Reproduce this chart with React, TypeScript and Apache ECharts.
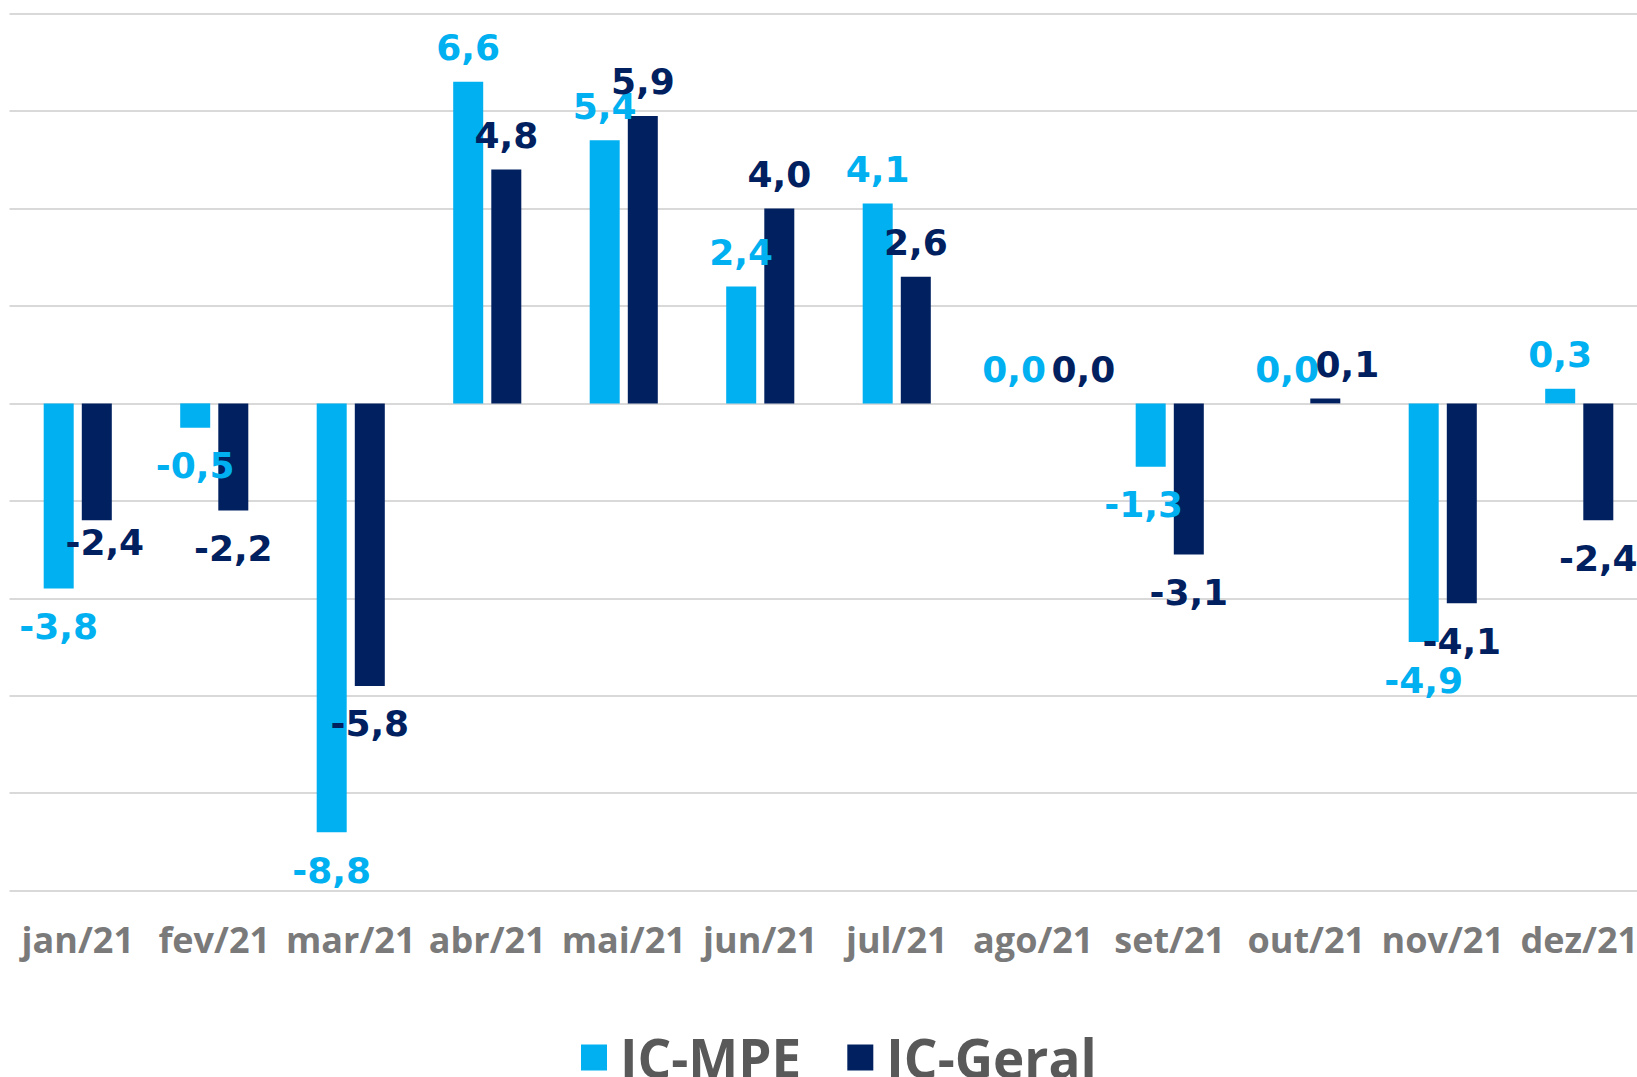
import React, { useEffect, useRef } from "react";
import * as echarts from "echarts";

const categories = ["jan/21", "fev/21", "mar/21", "abr/21", "mai/21", "jun/21", "jul/21", "ago/21", "set/21", "out/21", "nov/21", "dez/21"];
const icMpe = [-3.8, -0.5, -8.8, 6.6, 5.4, 2.4, 4.1, 0.0, -1.3, 0.0, -4.9, 0.3];
const icGeral = [-2.4, -2.2, -5.8, 4.8, 5.9, 4.0, 2.6, 0.0, -3.1, 0.1, -4.1, -2.4];
const seriesNames = ["IC-MPE", "IC-Geral"];

const COLOR_MPE = "#00B0F0";
const COLOR_GERAL = "#002060";

// label nudges (styling only), keyed by category index: [dx, dy]
const mpeLabelShift: Record<number, number[]> = { 8: [-7, 0] };
const geralLabelShift: Record<number, number[]> = { 0: [8, -16], 7: [31, 0], 9: [22, 0] };

const fmt = (v: number) => v.toFixed(1).replace(".", ",");

function buildData(values: number[], shift: Record<number, number[]>) {
  return values.map((v, i) => ({
    value: v,
    label: {
      position: v < 0 ? "bottom" : "top",
      distance: v < 0 ? 20 : 16,
      offset: shift[i] || [0, 0],
    },
  }));
}

export default function App() {
  const ref = useRef<HTMLDivElement>(null);
  useEffect(() => {
    if (!ref.current) return;
    const chart = echarts.init(ref.current, null, { renderer: "svg" });
    const labelBase = {
      show: true,
      fontFamily: "DejaVu Sans",
      fontWeight: "bold",
      fontSize: 36,
      lineHeight: 36,
      formatter: (p: any) => fmt(p.value),
    };
    chart.setOption({
      animation: false,
      backgroundColor: "#ffffff",
      grid: { left: 9.5, top: 13.6, height: 877, width: 1638 },
      legend: {
        data: seriesNames,
        left: 576,
        top: 1026,
        icon: "rect",
        itemWidth: 26,
        itemHeight: 26,
        itemGap: 46,
        textStyle: {
          fontFamily: "Open Sans",
          fontWeight: "bold",
          fontSize: 53,
          color: "#595959",
          padding: [0, 0, 0, 8],
        },
      },
      xAxis: {
        type: "category",
        data: categories,
        axisLine: { show: false, onZero: false },
        axisTick: { show: false },
        axisLabel: {
          interval: 0,
          margin: 31,
          fontFamily: "Open Sans",
          fontWeight: "bold",
          fontSize: 36,
          color: "#7A7A7A",
        },
      },
      yAxis: {
        type: "value",
        min: -10,
        max: 8,
        interval: 2,
        axisLabel: { show: false },
        axisLine: { show: false },
        axisTick: { show: false },
        splitLine: { lineStyle: { color: "#D9D9D9", width: 2 } },
      },
      series: [
        {
          name: seriesNames[0],
          type: "bar",
          barWidth: 30,
          barGap: "27%",
          itemStyle: { color: COLOR_MPE },
          label: { ...labelBase, color: COLOR_MPE },
          data: buildData(icMpe, mpeLabelShift),
        },
        {
          name: seriesNames[1],
          type: "bar",
          barWidth: 30,
          barGap: "27%",
          itemStyle: { color: COLOR_GERAL },
          label: { ...labelBase, color: COLOR_GERAL },
          data: buildData(icGeral, geralLabelShift),
        },
      ],
    });
    return () => chart.dispose();
  }, []);
  return (
    <div style={{ position: "absolute", left: 0, top: 0, width: 1637, height: 1077, overflow: "hidden" }}>
      <div ref={ref} style={{ width: 1680, height: 1077 }} />
    </div>
  );
}
